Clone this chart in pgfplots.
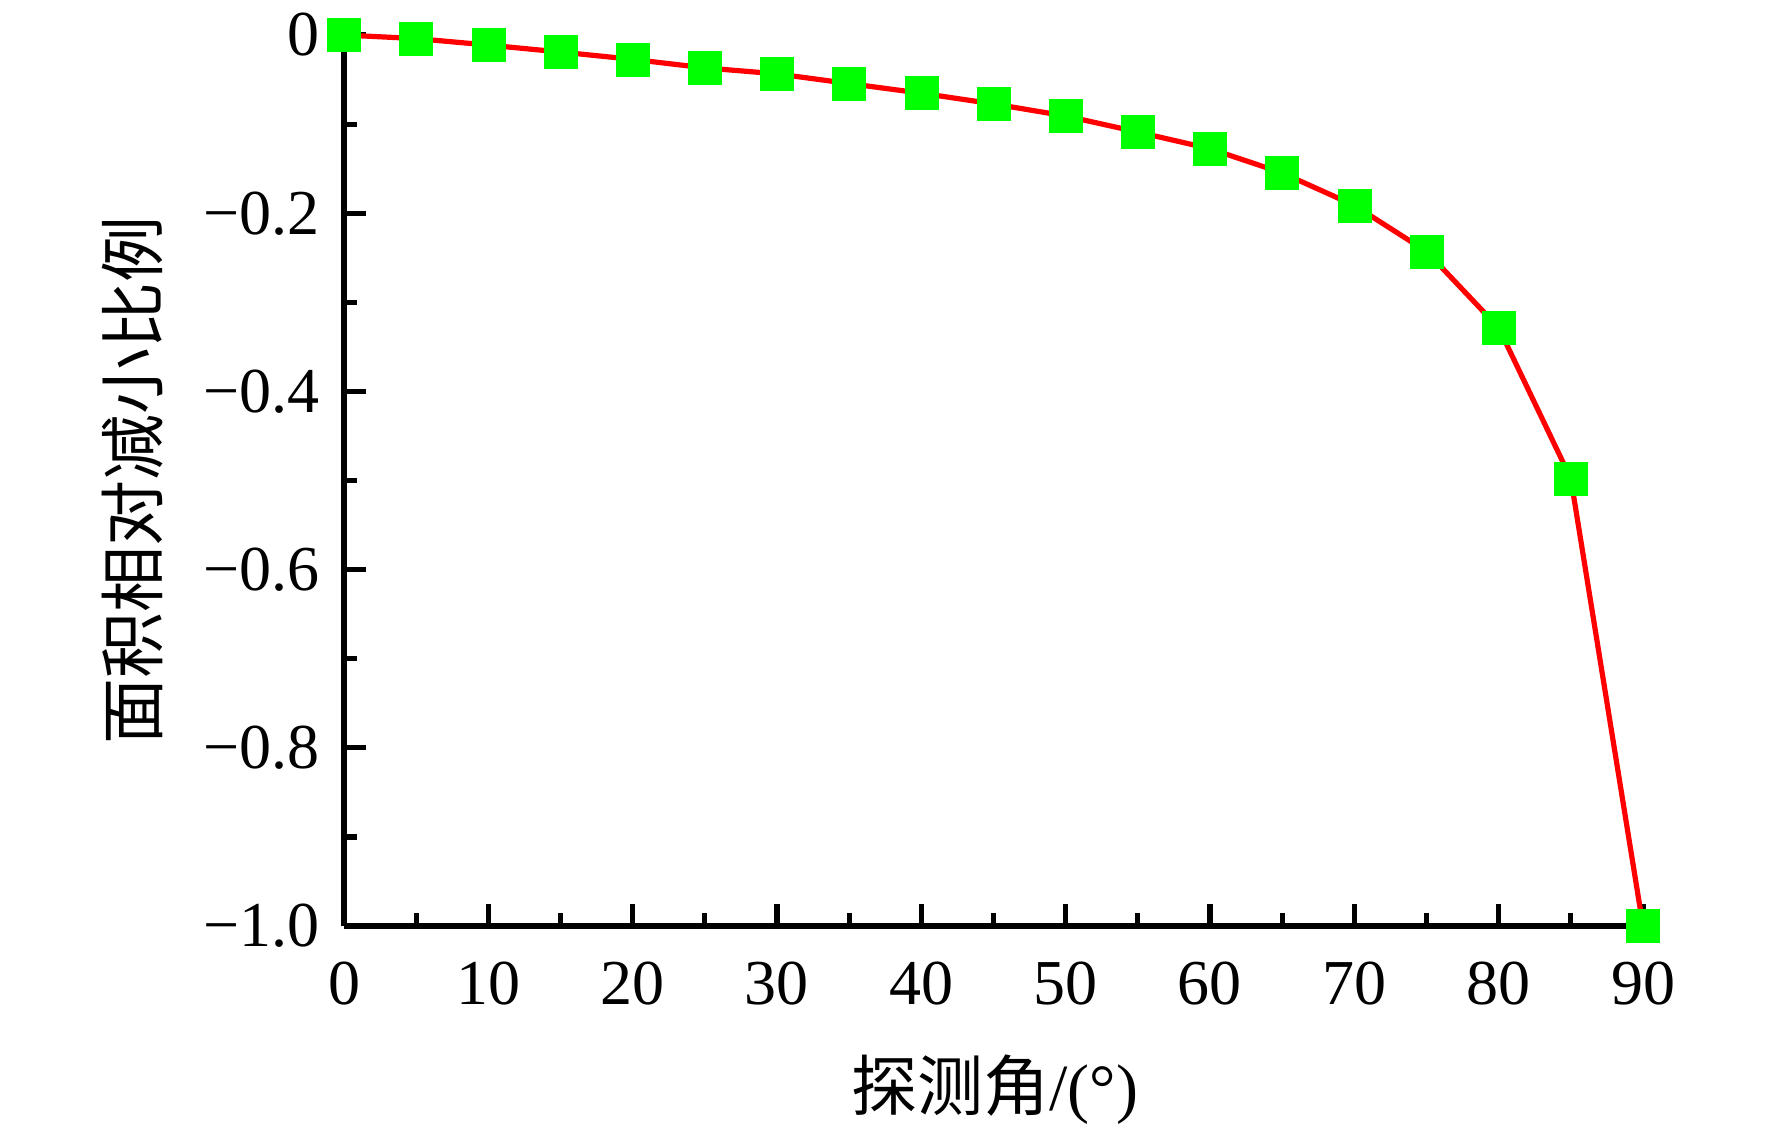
\documentclass[border=0pt]{standalone}
\usepackage{pgfplots}
\pgfplotsset{compat=1.18}
\usepackage{fontspec}
\setmainfont{Liberation Serif}
\newfontfamily\cjk{Noto Sans CJK SC}
\definecolor{mygreen}{RGB}{0,255,0}
\definecolor{myred}{RGB}{255,0,0}
\begin{document}
\begin{tikzpicture}
\useasboundingbox (-86pt,-50.5pt) rectangle (357pt,231.5pt);
\begin{axis}[
  scale only axis,
  width=324.75pt, height=222.75pt,
  at={(0,0)}, anchor=south west,
  xmin=0, xmax=90, ymin=-1, ymax=0,
  clip=false,
  axis x line*=bottom, axis y line*=left,
  axis line style={line width=1.3pt, black},
  xtick={0,10,20,30,40,50,60,70,80,90},
  xticklabels={0,10,20,30,40,50,60,70,80,90},
  ytick={-1,-0.8,-0.6,-0.4,-0.2,0},
  yticklabels={−1.0,−0.8,−0.6,−0.4,−0.2,0},
  minor x tick num=1, minor y tick num=1,
  tick align=inside,
  major tick length=5.5pt, minor tick length=3.3pt,
  tick style={line width=1.3pt, black},
  every tick label/.append style={font=\fontsize{16}{18}\selectfont},
  xticklabel style={anchor=center, yshift=-14.25pt},
  yticklabel style={anchor=east, inner sep=0pt, xshift=-6pt},
  xlabel={{\cjk 探测角}/(°)},
  ylabel={\cjk 面积相对减小比例},
  label style={font=\fontsize{16.5}{18}\selectfont},
  xlabel style={at={(axis description cs:0.501,-0.184)}, anchor=center},
  ylabel style={at={(axis description cs:-0.1624,0.5)}, anchor=center},
]
\addplot[color=myred, line width=1.3pt, mark=square*, mark size=4.125pt,
  mark options={solid, draw=mygreen, fill=mygreen, line width=0.1pt}] coordinates {
(0,0) (5,-0.0040) (10,-0.0113) (15,-0.0191) (20,-0.0273) (25,-0.0369)
(30,-0.0436) (35,-0.0545) (40,-0.0653) (45,-0.0773) (50,-0.0909)
(55,-0.1089) (60,-0.1276) (65,-0.1548) (70,-0.1912) (75,-0.2429)
(80,-0.3285) (85,-0.4978) (90,-1.0)
};
\end{axis}
\end{tikzpicture}
\end{document}
